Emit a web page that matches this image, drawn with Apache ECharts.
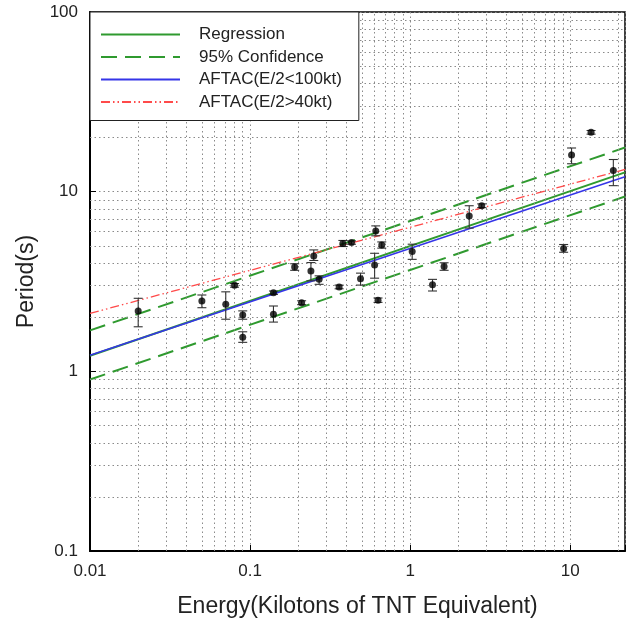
<!DOCTYPE html>
<html>
<head>
<meta charset="utf-8">
<script src="https://cdn.jsdelivr.net/npm/echarts@6/dist/echarts.min.js"></script>
<style>
html,body{margin:0;padding:0;background:#fff;}
#chart{width:628px;height:623px;}
</style>
</head>
<body>
<div id="chart"></div>
<script>
// ---- data ----
const energy = [0.02, 0.05, 0.0705, 0.08, 0.09, 0.09, 0.14, 0.14, 0.19, 0.21, 0.24, 0.25, 0.27, 0.36, 0.38, 0.43, 0.49, 0.60, 0.61, 0.63, 0.665, 1.03, 1.38, 1.63, 2.34, 2.8, 9.1, 10.2, 13.5, 18.6];
const period = [2.17, 2.46, 2.36, 3.01, 2.06, 1.55, 2.74, 2.08, 3.81, 2.41, 3.62, 4.39, 3.25, 2.95, 5.15, 5.21, 3.28, 3.91, 6.05, 2.49, 5.05, 4.64, 3.03, 3.83, 7.33, 8.34, 4.83, 16.0, 21.4, 13.1];
const periodLow = [1.77, 2.26, 1.95, 2.94, 1.95, 1.45, 2.68, 1.88, 3.65, 2.35, 3.19, 4.14, 3.05, 2.88, 4.95, 5.10, 3.02, 3.30, 5.68, 2.42, 4.85, 4.20, 2.80, 3.65, 6.27, 8.15, 4.60, 14.3, 20.9, 10.8];
const periodHigh = [2.55, 2.66, 2.77, 3.08, 2.17, 1.66, 2.80, 2.31, 3.97, 2.47, 4.03, 4.74, 3.40, 3.02, 5.35, 5.32, 3.52, 4.54, 6.45, 2.56, 5.25, 5.10, 3.25, 4.02, 8.35, 8.55, 5.08, 17.5, 21.9, 15.1];

const lineEnergy = [0.01, 22];
const regression = [1.22, 12.8];
const confUpper = [1.69, 17.6];
const confLower = [0.90, 9.4];
const aftac100 = [1.23, 12.1];
const aftac40 = [2.1, 13.3];

const xTickLabels = ['0.01', '0.1', '1', '10'];
const yTickLabels = ['0.1', '1', '10', '100'];
const xMinorGrid = [0.02,0.03,0.04,0.05,0.06,0.07,0.08,0.09,0.2,0.3,0.4,0.5,0.6,0.7,0.8,0.9,2,3,4,5,6,7,8,9,20];
const yMinorGrid = [0.2,0.3,0.4,0.5,0.6,0.7,0.8,0.9,2,3,4,5,6,7,8,9,20,30,40,50,60,70,80,90];

// ---- build ----
const pair = (xs, ys) => xs.map((x, i) => [x, ys[i]]);
const FONT = '"Liberation Sans", Arial, sans-serif';
const gridDots = {color: '#8a8a8a', width: 1, type: [1.5, 3]};

function tickFormatter(list) {
  return function (v) {
    const s = String(+v.toPrecision(6));
    return list.indexOf(s) >= 0 ? s : '';
  };
}

const chart = echarts.init(document.getElementById('chart'), null, {renderer: 'canvas'});
const green = '#2f9a2f';
const dashStyle = [16, 8];

chart.setOption({
  backgroundColor: '#fff',
  animation: false,
  textStyle: {fontFamily: FONT},
  grid: {left: 90, right: 3, top: 12, bottom: 72, show: true, borderColor: '#000', borderWidth: 1.5, backgroundColor: 'transparent'},
  legend: {
    orient: 'vertical', left: 90, top: 12,
    padding: [14, 17, 10, 10],
    itemWidth: 79, itemHeight: 14, itemGap: 5.5,
    backgroundColor: '#fff', borderColor: '#222', borderWidth: 1,
    itemStyle: {opacity: 0, borderWidth: 0},
    textStyle: {fontSize: 17, color: '#222', fontFamily: FONT, padding: [0, 0, 0, 14]},
    data: ['Regression', '95% Confidence', 'AFTAC(E/2<100kt)', 'AFTAC(E/2>40kt)'],
    z: 20
  },
  xAxis: {
    type: 'log', logBase: 10, min: 0.01, max: 22,
    name: 'Energy(Kilotons of TNT Equivalent)', nameLocation: 'middle', nameGap: 44,
    nameTextStyle: {fontSize: 23, color: '#222', fontFamily: FONT},
    axisLine: {lineStyle: {color: '#000', width: 2}},
    axisTick: {inside: true, length: 6, lineStyle: {color: '#000'}},
    axisLabel: {fontSize: 17, color: '#222', margin: 12, formatter: tickFormatter(xTickLabels), showMaxLabel: true},
    splitLine: {show: true, lineStyle: gridDots},
    minorTick: {show: false}
  },
  yAxis: {
    type: 'log', logBase: 10, min: 0.1, max: 100,
    name: 'Period(s)', nameLocation: 'middle', nameGap: 52, nameRotate: 90,
    nameTextStyle: {fontSize: 23, color: '#222', fontFamily: FONT},
    axisLine: {lineStyle: {color: '#000', width: 2}},
    axisTick: {inside: true, length: 6, lineStyle: {color: '#000'}},
    axisLabel: {fontSize: 17, color: '#222', margin: 12, formatter: tickFormatter(yTickLabels)},
    splitLine: {show: true, lineStyle: gridDots}
  },
  series: [
    {
      type: 'line', name: '_grid', data: [], silent: true, z: 1,
      markLine: {
        silent: true, symbol: 'none', label: {show: false}, animation: false,
        lineStyle: gridDots,
        data: xMinorGrid.map(v => ({xAxis: v})).concat(yMinorGrid.map(v => ({yAxis: v})))
      }
    },
    {type: 'line', name: '95% Confidence', data: pair(lineEnergy, confUpper), symbol: 'none', z: 3,
     lineStyle: {color: green, width: 2, type: dashStyle}, itemStyle: {color: green}},
    {type: 'line', name: '95% Confidence', data: pair(lineEnergy, confLower), symbol: 'none', z: 3,
     lineStyle: {color: green, width: 2, type: dashStyle}, itemStyle: {color: green}},
    {type: 'line', name: 'Regression', data: pair(lineEnergy, regression), symbol: 'none', z: 4,
     lineStyle: {color: green, width: 2}, itemStyle: {color: green}},
    {type: 'line', name: 'AFTAC(E/2<100kt)', data: pair(lineEnergy, aftac100), symbol: 'none', z: 5,
     lineStyle: {color: '#3535e8', width: 1.6}, itemStyle: {color: '#7a7aff'}},
    {type: 'line', name: 'AFTAC(E/2>40kt)', data: pair(lineEnergy, aftac40), symbol: 'none', z: 5,
     lineStyle: {color: '#ff4a4a', width: 1.3, type: [9, 3, 1.5, 3, 1.5, 3]}, itemStyle: {color: '#ff4a4a'}},
    {
      type: 'custom', name: '_err', z: 6, silent: true,
      data: energy.map((x, i) => [x, periodLow[i], periodHigh[i]]),
      encode: {x: 0, y: [1, 2]},
      renderItem: function (params, api) {
        const x = api.value(0);
        const lo = api.coord([x, api.value(1)]);
        const hi = api.coord([x, api.value(2)]);
        const w = 4.5;
        const st = {stroke: '#333', lineWidth: 1.1, fill: null};
        return {type: 'group', children: [
          {type: 'line', shape: {x1: lo[0], y1: lo[1], x2: hi[0], y2: hi[1]}, style: st},
          {type: 'line', shape: {x1: lo[0] - w, y1: lo[1], x2: lo[0] + w, y2: lo[1]}, style: st},
          {type: 'line', shape: {x1: hi[0] - w, y1: hi[1], x2: hi[0] + w, y2: hi[1]}, style: st}
        ]};
      }
    },
    {type: 'scatter', name: '_pts', data: pair(energy, period), symbol: 'circle', symbolSize: 7, z: 7,
     itemStyle: {color: '#000'}, silent: true}
  ]
});
</script>
</body>
</html>
